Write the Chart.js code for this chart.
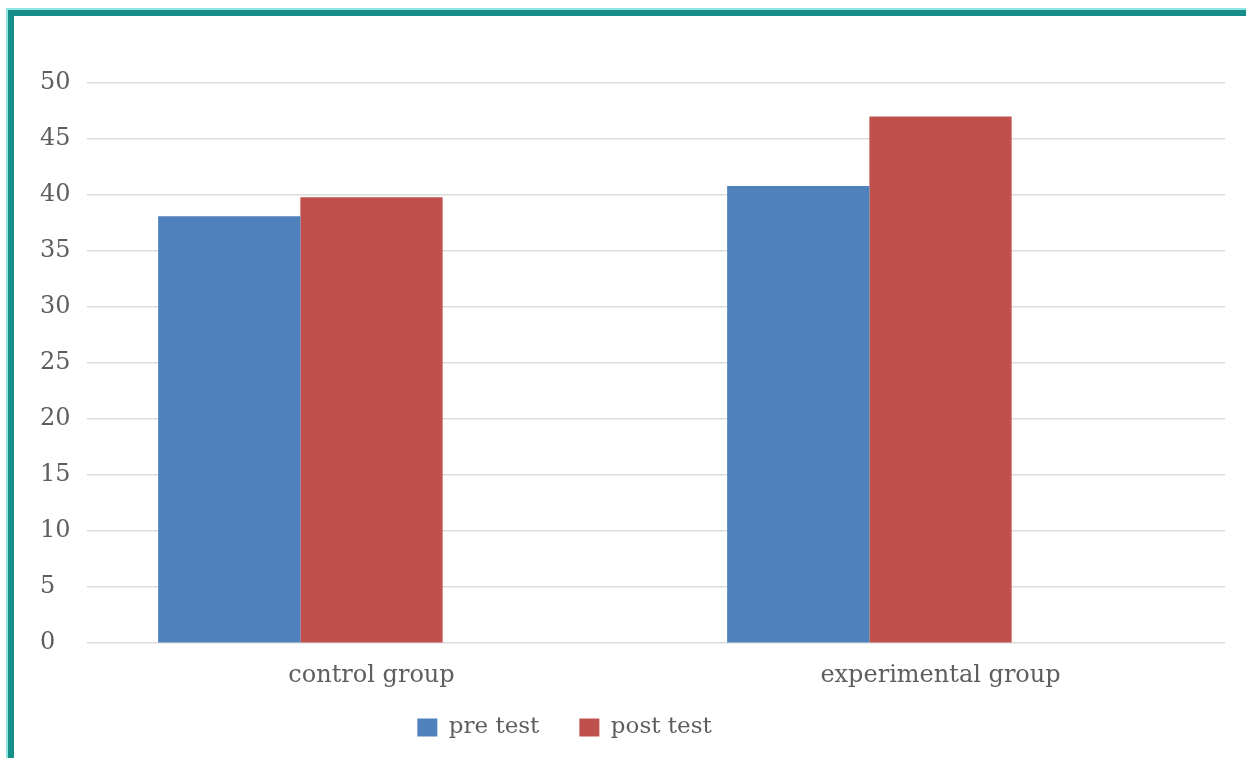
<!DOCTYPE html>
<html>
<head>
<meta charset="utf-8">
<script src="https://cdn.jsdelivr.net/npm/chart.js@4.4.1/dist/chart.umd.min.js"></script>
<style>
  html, body { margin: 0; padding: 0; background: #ffffff; }
  body { width: 1246px; height: 758px; position: relative; overflow: hidden; }
  #frame {
    position: absolute; left: 8px; top: 10px; width: 1300px; height: 800px;
    border-left: 6px solid #178e89; border-top: 6px solid #178e89;
    box-shadow: -1px -1px 0 1px #8fe6e2;
    box-sizing: border-box;
  }
  #wrap { position: absolute; left: 0; top: 0; width: 1246px; height: 758px; }
</style>
</head>
<body>
<div id="frame"></div>
<div id="wrap"><canvas id="chart" width="1246" height="758"></canvas></div>
<script>
// Group names along the x axis
const categories = ['control group', 'experimental group'];
// Mean scores per test
const preTest = [38.1, 40.8];
const postTest = [39.8, 47.0];
// Third series of the workbook has no values; it still reserves its slot in each group
const emptySeries = [null, null];
// Value axis ticks
const yTicks = [0, 5, 10, 15, 20, 25, 30, 35, 40, 45, 50];

const serif = "'DejaVu Serif', 'Liberation Serif', serif";
const textGray = '#5e5e5e';

// Moves the legend row after layout
const legendShift = {
  id: 'legendShift',
  afterLayout(chart, args, opts) {
    const lg = chart.legend;
    if (lg) {
      lg.left += opts.dx; lg.right += opts.dx;
      lg.top += opts.dy; lg.bottom += opts.dy;
    }
  }
};

new Chart(document.getElementById('chart'), {
  type: 'bar',
  data: {
    labels: categories,
    datasets: [
      { label: 'pre test', data: preTest, backgroundColor: '#4f81bd' },
      { label: 'post test', data: postTest, backgroundColor: '#c0504d' },
      { label: '', data: emptySeries, backgroundColor: 'rgba(0,0,0,0)' }
    ]
  },
  plugins: [legendShift],
  options: {
    responsive: false,
    animation: false,
    devicePixelRatio: 1,
    categoryPercentage: 0.75,
    barPercentage: 1.0,
    layout: { padding: { left: 40, right: 21, top: 83, bottom: -15 } },
    scales: {
      x: {
        grid: { display: false },
        border: { display: false },
        ticks: { color: textGray, font: { family: serif, size: 24 }, padding: 10 }
      },
      y: {
        min: 0, max: 50,
        afterBuildTicks(axis) { axis.ticks = yTicks.map(v => ({ value: v })); },
        afterFit(axis) { axis.width = 47; },
        grid: { color: '#dcdcdc', lineWidth: 1.5, drawTicks: false },
        border: { display: false },
        ticks: { color: textGray, font: { family: serif, size: 24 }, padding: 17, crossAlign: 'far' }
      }
    },
    plugins: {
      legend: {
        position: 'bottom',
        labels: {
          filter: item => item.text !== '',
          color: textGray,
          font: { family: serif, size: 23 },
          boxWidth: 20, boxHeight: 18,
          padding: 40
        }
      },
      legendShift: { dx: -68, dy: -24 },
      tooltip: { enabled: false }
    }
  }
});
</script>
</body>
</html>
